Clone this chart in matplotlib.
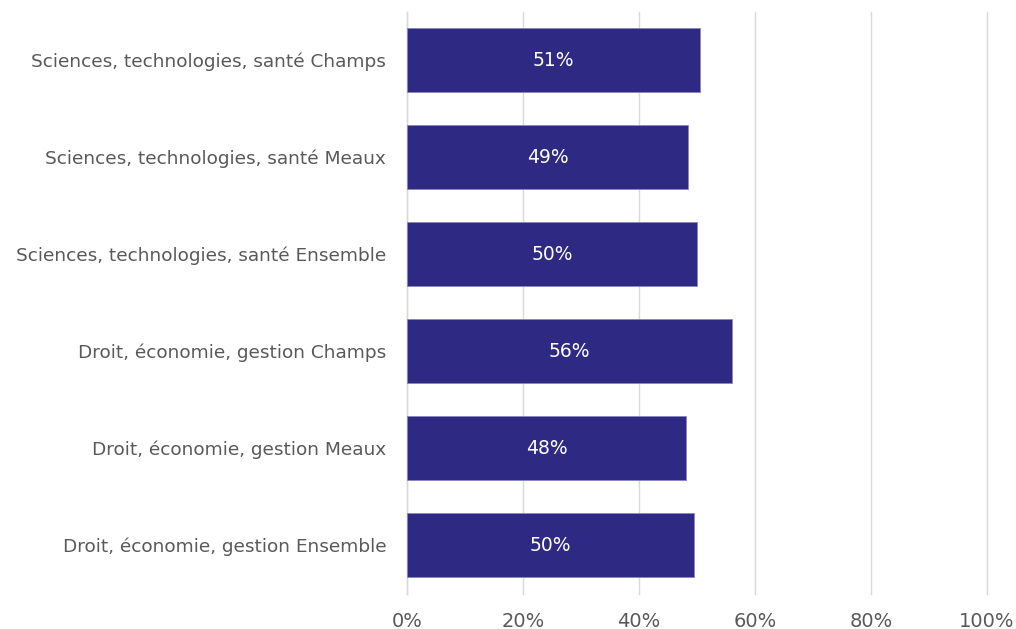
import matplotlib
matplotlib.use("Agg")
import numpy as np
from matplotlib import pyplot as plt
from matplotlib.ticker import FuncFormatter

categories = [
    "Sciences, technologies, santé Champs",
    "Sciences, technologies, santé Meaux",
    "Sciences, technologies, santé Ensemble",
    "Droit, économie, gestion Champs",
    "Droit, économie, gestion Meaux",
    "Droit, économie, gestion Ensemble",
]
values = [0.505, 0.484, 0.500, 0.560, 0.481, 0.495]
labels = ["51%", "49%", "50%", "56%", "48%", "50%"]

bar_color = "#2E2A84"
text_color = "#595959"

plt.rcParams["font.family"] = ["DejaVu Sans"]

fig = plt.figure(figsize=(10.16, 6.29), dpi=100)
ax = fig.add_axes([0.4006, 0.0564, 0.9715 - 0.4006, 0.9817 - 0.0564])

y = np.arange(len(categories))
bars = ax.barh(y, values, height=0.65, color=bar_color,
               edgecolor="#8A86C0", linewidth=0.6, zorder=3)

for bar, lab in zip(bars, labels):
    ax.text(bar.get_width() / 2, bar.get_y() + bar.get_height() / 2, lab,
            ha="center", va="center", color="white", fontsize=13.5, zorder=4)

ax.set_xlim(0, 1)
ax.set_ylim(len(categories) - 0.5, -0.5)
ax.set_yticks(y)
ax.set_yticklabels(categories, fontsize=13.3, color=text_color)
ax.set_xticks(np.linspace(0, 1, 6))
ax.xaxis.set_major_formatter(FuncFormatter(lambda v, _: f"{v * 100:.0f}%"))
ax.tick_params(axis="x", labelsize=14, labelcolor=text_color, length=0, pad=13)
ax.tick_params(axis="y", length=0, pad=15)

ax.grid(axis="x", color="#D9D9D9", linewidth=1, zorder=0)
for gl in ax.get_xgridlines():
    gl.set_clip_on(False)
ax.set_axisbelow(True)
for s in ["top", "right", "bottom"]:
    ax.spines[s].set_visible(False)
ax.spines["left"].set_color("#D9D9D9")
ax.spines["left"].set_linewidth(1)

fig.savefig("out.png", dpi=100)
